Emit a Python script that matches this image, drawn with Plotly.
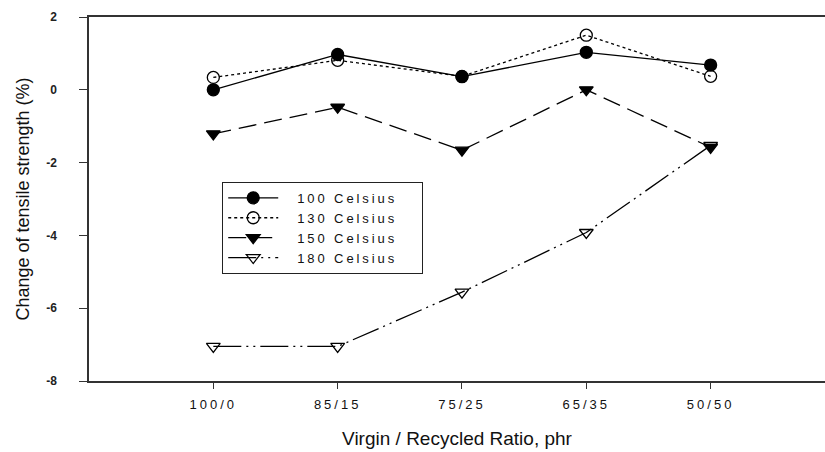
import plotly.graph_objects as go

categories = ["100/0", "85/15", "75/25", "65/35", "50/50"]
s100 = [0.0, 0.97, 0.36, 1.03, 0.68]
s130 = [0.34, 0.81, 0.37, 1.50, 0.37]
s150 = [-1.21, -0.48, -1.66, 0.0, -1.58]
s180 = [-7.05, -7.05, -5.56, -3.92, -1.53]
names = ["100 Celsius", "130 Celsius", "150 Celsius", "180 Celsius"]
ytick_vals = [2, 0, -2, -4, -6, -8]
ytick_text = ["2", "0", "-2", "-4", "-6", "-8"]

FONT = "Liberation Sans, Arial, sans-serif"

fig = go.Figure()
styles = [
    dict(dash="solid", symbol="circle"),
    dict(dash="dot", symbol="circle-open"),
    dict(dash="18px,8px", symbol="triangle-down"),
    dict(dash="28px,5px,2px,5px,2px,5px", symbol="triangle-down-open"),
]
for name, vals, st in zip(names, [s100, s130, s150, s180], styles):
    fig.add_trace(go.Scatter(
        x=categories, y=vals, name=name, mode="lines+markers",
        line=dict(color="black", width=1.3, dash=st["dash"]),
        marker=dict(symbol=st["symbol"], size=12, color="black",
                    line=dict(color="black", width=1.3)),
    ))

fig.update_layout(
    width=825, height=452,
    margin=dict(l=89, r=0, t=17, b=71),
    paper_bgcolor="white", plot_bgcolor="white",
    font=dict(family=FONT, color="#111"),
    showlegend=True,
    legend=dict(x=0.181, y=0.547, xanchor="left", yanchor="top",
                bgcolor="white", bordercolor="#222", borderwidth=1,
                font=dict(size=13, family=FONT, color="#111"),
                itemwidth=50, tracegroupgap=0),
    xaxis=dict(type="category", range=[-1, 4.92], showgrid=False, zeroline=False,
               showline=True, linecolor="#333", linewidth=1.5, mirror=True,
               ticks="outside", ticklen=6, tickcolor="#333", tickwidth=1,
               ticklabelstandoff=5,
               tickfont=dict(size=13, family=FONT, color="#111"),
               title=dict(text="Virgin / Recycled Ratio, phr",
                          font=dict(size=19, family=FONT, color="#111"), standoff=20)),
    yaxis=dict(range=[-8, 2], showgrid=False, zeroline=False,
               showline=True, linecolor="#333", linewidth=1.5,
               ticks="outside", ticklen=8, tickcolor="#333", tickwidth=1,
               tickvals=ytick_vals, ticktext=ytick_text,
               tickfont=dict(size=12, family=FONT, color="#222", weight="bold"),
               ticklabelstandoff=20,
               title=dict(text="Change of tensile strength (%)",
                          font=dict(size=18, family=FONT, color="#111"), standoff=12)),
)

post = """
var gd = document.getElementById('{plot_id}');
function sp(){
  document.querySelectorAll('.xtick text').forEach(function(t){t.style.letterSpacing='3px';});
  var lg = gd.querySelector('.legend');
  if(!lg) return;
  lg.querySelectorAll('.legendtext').forEach(function(t){
    t.style.letterSpacing='2.9px';
    if(!t.getAttribute('data-shifted')){
      t.setAttribute('x', parseFloat(t.getAttribute('x')) + 14);
      t.setAttribute('data-shifted', '1');
    }
  });
  var W = 200;
  var bg = lg.querySelector('rect.bg');
  if(bg) bg.setAttribute('width', W);
  var sb = lg.querySelector('.scrollbox');
  if(sb){
    var cp = sb.getAttribute('clip-path');
    if(cp){
      var m = cp.match(/#([^)"']+)/);
      if(m){
        var r = document.getElementById(m[1]);
        if(r){ var rr = r.querySelector('rect'); if(rr) rr.setAttribute('width', W); }
      }
    }
  }
}
sp();
gd.on('plotly_afterplot', sp);
"""
fig.write_html("out.html", post_script=post)
